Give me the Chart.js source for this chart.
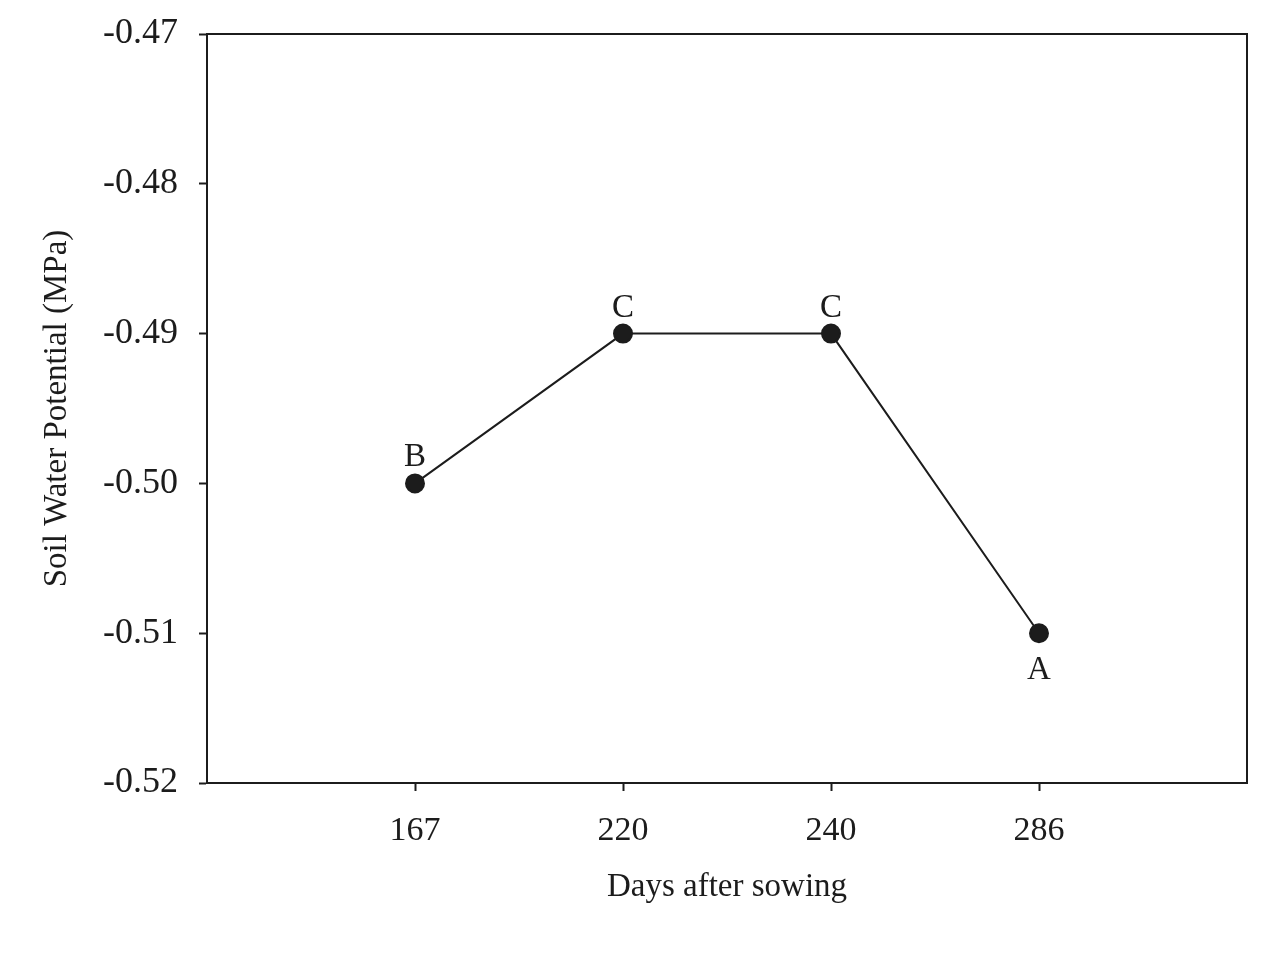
<!DOCTYPE html>
<html>
<head>
<meta charset="utf-8">
<script src="https://cdn.jsdelivr.net/npm/chart.js@4"></script>
<style>
  html, body { margin: 0; padding: 0; background: #fff; }
  #wrap { width: 1279px; height: 962px; }
</style>
</head>
<body>
<div id="wrap"><canvas id="swpChart"></canvas></div>
<script>
// data
const daysAfterSowing = ["167", "220", "240", "286"];
const soilWaterPotential = [-0.50, -0.49, -0.49, -0.51];
const groupLetters = ["B", "C", "C", "A"];
const yTicks = [-0.52, -0.51, -0.50, -0.49, -0.48, -0.47];

const serif = "'Liberation Serif', 'Times New Roman', serif";
const ink = "#1c1c1c";

// frame around the plot area
const frameBox = {
    id: "frameBox",
    afterDatasetsDraw(chart) {
        const {ctx, chartArea: a} = chart;
        ctx.save();
        ctx.strokeStyle = ink;
        ctx.lineWidth = 2;
        ctx.strokeRect(a.left, a.top, a.right - a.left, a.bottom - a.top);
        ctx.restore();
    }
};

// significance letters next to each point
const letterLabels = {
    id: "letterLabels",
    afterDatasetsDraw(chart) {
        const {ctx} = chart;
        const meta = chart.getDatasetMeta(0);
        ctx.save();
        ctx.font = "33px " + serif;
        ctx.fillStyle = ink;
        ctx.textAlign = "center";
        ctx.textBaseline = "alphabetic";
        meta.data.forEach((pt, i) => {
            const last = i === meta.data.length - 1;
            const goingDown = i > 0 && soilWaterPotential[i] < soilWaterPotential[i - 1];
            if (last && goingDown) {
                ctx.fillText(groupLetters[i], pt.x, pt.y + 46);
            } else {
                ctx.fillText(groupLetters[i], pt.x, pt.y - 17);
            }
        });
        ctx.restore();
    }
};

// keep the plot box where the layout padding puts it
const noScalePadding = (scale) => {
    scale.paddingTop = 0;
    scale.paddingBottom = 0;
    scale.paddingLeft = 0;
    scale.paddingRight = 0;
};

try {
    const canvasObject = document.getElementById("swpChart");
    new Chart(canvasObject, {
        type: "line",
        data: {
            datasets: [{
                label: "Soil Water Potential",
                data: soilWaterPotential.map((v, i) => ({x: i + 1, y: v})),
                borderColor: ink,
                borderWidth: 2,
                backgroundColor: ink,
                pointBackgroundColor: ink,
                pointBorderColor: ink,
                pointRadius: 9,
                pointHoverRadius: 9,
                tension: 0,
                fill: false,
            }]
        },
        options: {
            responsive: true,
            maintainAspectRatio: false,
            animation: false,
            events: [],
            layout: {
                padding: {top: 34, right: 32, bottom: 0, left: 0}
            },
            plugins: {
                legend: {display: false},
                tooltip: {enabled: false}
            },
            scales: {
                x: {
                    type: "linear",
                    min: 0,
                    max: 5,
                    afterBuildTicks: (scale) => {
                        scale.ticks = daysAfterSowing.map((d, i) => ({value: i + 1}));
                    },
                    afterFit: (scale) => {
                        scale.height = 179;
                        noScalePadding(scale);
                    },
                    grid: {
                        drawOnChartArea: false,
                        drawTicks: true,
                        tickLength: 8,
                        tickWidth: 2,
                        color: ink
                    },
                    border: {display: true, color: ink, width: 2},
                    ticks: {
                        autoSkip: false,
                        maxRotation: 0,
                        padding: 20,
                        color: ink,
                        font: {family: serif, size: 34},
                        callback: (value) => daysAfterSowing[value - 1]
                    },
                    title: {
                        display: true,
                        text: "Days after sowing",
                        color: ink,
                        font: {family: serif, size: 33},
                        padding: {top: 0, bottom: 55}
                    }
                },
                y: {
                    min: yTicks[0],
                    max: yTicks[yTicks.length - 1],
                    afterBuildTicks: (scale) => {
                        scale.ticks = yTicks.map((v) => ({value: v}));
                    },
                    afterFit: (scale) => {
                        scale.width = 207;
                        noScalePadding(scale);
                    },
                    grid: {
                        drawOnChartArea: false,
                        drawTicks: true,
                        tickLength: 8,
                        tickWidth: 2,
                        color: ink
                    },
                    border: {display: true, color: ink, width: 2},
                    ticks: {
                        padding: 21,
                        color: ink,
                        font: {family: serif, size: 36},
                        callback: (value) => value.toFixed(2)
                    },
                    title: {
                        display: true,
                        text: "Soil Water Potential (MPa)",
                        color: ink,
                        font: {family: serif, size: 33},
                        padding: {top: 38, bottom: 0}
                    }
                }
            }
        },
        plugins: [frameBox, letterLabels]
    });
} catch (error) {
    console.log(error.message);
}
</script>
</body>
</html>
